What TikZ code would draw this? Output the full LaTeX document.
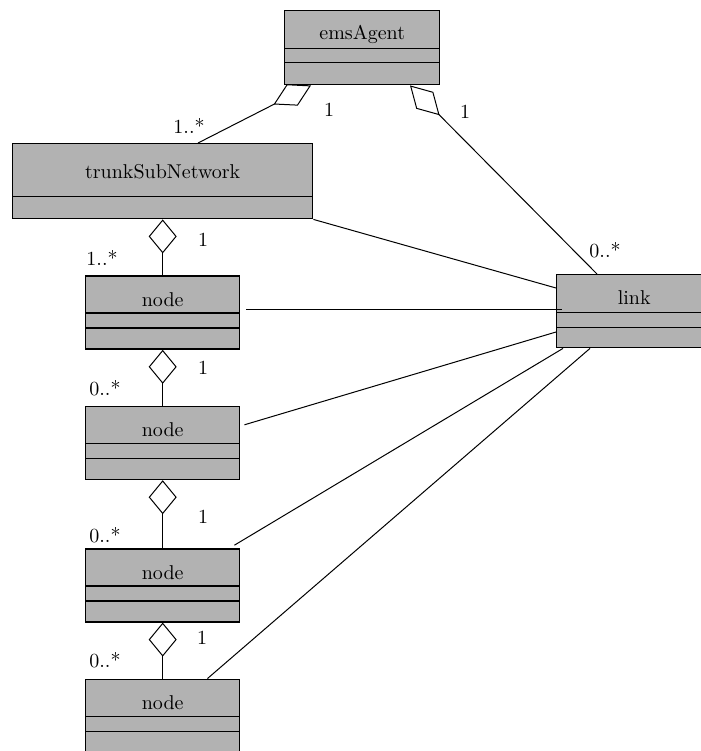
\documentclass[tikz,border=0pt]{standalone}
\usetikzlibrary{positioning,arrows.meta,shapes.multipart}

\begin{document}
\begin{tikzpicture}[
    node distance=28pt,
    classbox/.style={draw, line width=0.7pt, fill=black!30, rectangle split, rectangle split parts=3,
        inner ysep=0pt, inner xsep=2pt, minimum width=77pt},
    subnetbox/.style={classbox, rectangle split parts=2, minimum width=150pt},
    agg/.style={{Diamond[open,length=17pt,width=14pt]}-, line width=0.5pt},
    slantagg/.style={{Diamond[open,length=21pt,width=12pt]}-, line width=0.5pt},
    assoc/.style={line width=0.5pt},
    mult/.style={inner sep=0pt}
]
\useasboundingbox (0,0) rectangle (350.5pt,-375.5pt);

% classes
\node[classbox, anchor=north west, minimum width=77.5pt] (ems) at (142pt,-5pt)
    {\rule[-4.5pt]{0pt}{18.3pt}emsAgent\nodepart{second}\rule{0pt}{6.3pt}\nodepart{third}\rule{0pt}{10.3pt}};
\node[subnetbox, anchor=north west] (trunk) at (6pt,-71.5pt)
    {\rule[-8.7pt]{0pt}{25.8pt}trunkSubNetwork\nodepart{second}\rule{0pt}{10.3pt}};
\node[classbox, below=of trunk] (node1)
    {\rule[-3pt]{0pt}{17.8pt}node\nodepart{second}\rule{0pt}{6.8pt}\nodepart{third}\rule{0pt}{9.8pt}};
\node[classbox, below=of node1] (node2)
    {\rule[-3pt]{0pt}{17.8pt}node\nodepart{second}\rule{0pt}{6.8pt}\nodepart{third}\rule{0pt}{9.8pt}};
\node[classbox, below=34pt of node2] (node3)
    {\rule[-3pt]{0pt}{17.8pt}node\nodepart{second}\rule{0pt}{6.8pt}\nodepart{third}\rule{0pt}{9.8pt}};
\node[classbox, below=of node3] (node4)
    {\rule[-3pt]{0pt}{17.8pt}node\nodepart{second}\rule{0pt}{6.8pt}\nodepart{third}\rule{0pt}{9.8pt}};
\node[classbox, anchor=north west, minimum width=77.5pt] (link) at (278pt,-137pt)
    {\rule[-3.8pt]{0pt}{18.3pt}link\nodepart{second}\rule{0pt}{6.8pt}\nodepart{third}\rule{0pt}{9.3pt}};

% aggregations
\draw[slantagg] ([xshift=13.5pt]ems.south west) -- ([xshift=93pt]trunk.north west);
\draw[slantagg] ([xshift=63pt]ems.south west) -- ([xshift=20.5pt]link.north west);
\draw[agg] (trunk.south) -- (node1.north);
\draw[agg] (node1.south) -- (node2.north);
\draw[agg] (node2.south) -- (node3.north);
\draw[agg] (node3.south) -- (node4.north);

% associations with link
\draw[assoc] (trunk.south east) -- ([yshift=-7pt]link.north west);
\draw[assoc] ([xshift=3pt,yshift=-17pt]node1.north east) -- ([xshift=3pt,yshift=-17pt]node1.north east -| link.west);
\draw[assoc] ([xshift=2pt,yshift=-9.5pt]node2.north east) -- ([yshift=-29pt]link.north west);
\draw[assoc] ([xshift=-3pt,yshift=1.5pt]node3.north east) -- ([xshift=3.5pt]link.south west);
\draw[assoc] ([xshift=-16.5pt]node4.north east) -- ([xshift=17pt]link.south west);

% multiplicities
\node[mult] (mTrunkTop) at (94.5pt,-63pt) {1..*};
\node[mult] (mEmsL) at (164.5pt,-55pt) {1};
\node[mult] (mEmsR) at (232.5pt,-56pt) {1};
\node[mult] (mLink) at (302.5pt,-125pt) {0..*};
\node[mult] (mTrunkBot) at (101.5pt,-120pt) {1};
\node[mult] (mNodeA) at (51pt,-129pt) {1..*};
\node[mult] (mNodeAbot) at (101.5pt,-184pt) {1};
\node[mult] (mNodeB) at (52.5pt,-194pt) {0..*};
\node[mult] (mNodeBbot) at (101.5pt,-258.5pt) {1};
\node[mult] (mNodeC) at (52.5pt,-267.5pt) {0..*};
\node[mult] (mNodeCbot) at (101pt,-319pt) {1};
\node[mult] (mNodeD) at (52.5pt,-330pt) {0..*};
\end{tikzpicture}
\end{document}
